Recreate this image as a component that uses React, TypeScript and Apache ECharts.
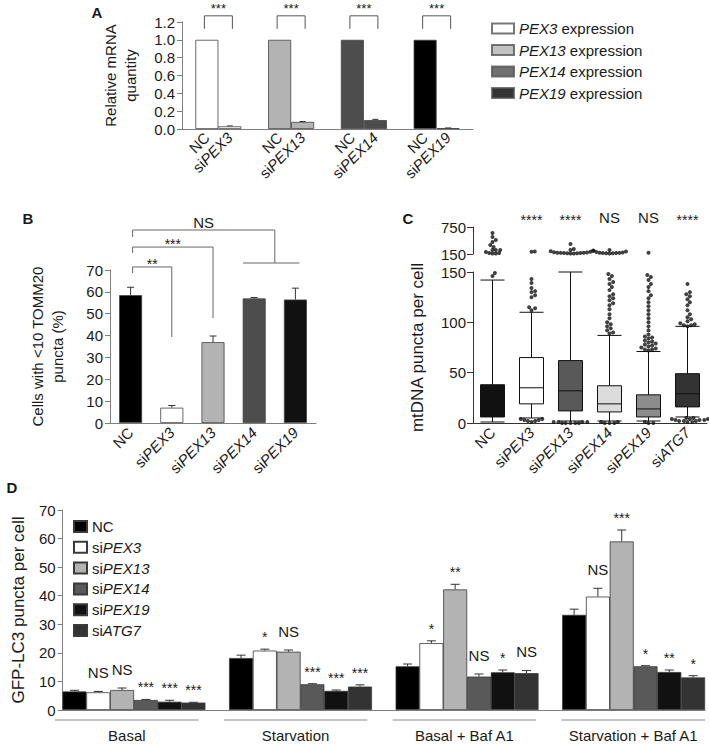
import React, { useEffect, useRef } from 'react';
import * as echarts from 'echarts';

// ---------------- Data ----------------
// Panel A
const aGenes = ['PEX3', 'PEX13', 'PEX14', 'PEX19'];
const aNC = [1.0, 1.0, 1.0, 1.0];
const aSi = [0.03, 0.08, 0.1, 0.01];
const aSiErr = [0.004, 0.004, 0.008, 0.002];
const aSig = ['***', '***', '***', '***'];

// Panel B
const bCats = ['NC', 'siPEX3', 'siPEX13', 'siPEX14', 'siPEX19'];
const bValues = [58.5, 7.0, 37.0, 57.0, 56.5];
const bErr = [3.6, 1.0, 2.8, 0.4, 5.2];
const bSigText = ['**', '***', 'NS'];

// Panel C  [min, Q1, median, Q3, max]
const cCats = ['NC', 'siPEX3', 'siPEX13', 'siPEX14', 'siPEX19', 'siATG7'];
const cBoxes = [
  [1, 6, 15, 38, 142],
  [5, 19, 35, 65, 110],
  [2, 12, 32, 62, 150],
  [2, 11, 19, 37, 87],
  [2, 6, 14, 28, 71],
  [6, 16, 29, 49, 96],
];
const cSig = ['', '****', '****', 'NS', 'NS', '****'];
const cLowerOutliers = [
  [149, 146],
  [143, 139, 134, 131, 130, 127, 125, 115, 114, 112, 4, 4, 3, 3, 2, 2, 1],
  [1, 1, 1, 0, 0, 0, 0, 0, 1],
  [148, 146, 143, 140, 138, 135, 132, 128, 126, 124, 122, 119, 117, 113, 108, 104, 100, 98, 96, 94, 92, 90, 89, 1, 1, 0, 0, 0],
  [147, 145, 142, 138, 135, 131, 127, 124, 120, 116, 112, 108, 104, 100, 96, 92, 88, 86, 85, 84, 82, 81, 80, 79, 78, 77, 76, 75, 74, 73, 73, 72, 1, 0, 0],
  [138, 130, 128, 126, 123, 120, 117, 112, 108, 105, 103, 101, 99, 98, 97, 97, 96, 5, 5, 4, 4, 4, 3, 3, 3, 2, 2, 2, 1, 1],
];
const cUpperOutliers = [
  [617, 528, 461, 417, 350, 306, 240, 240, 239, 194, 172, 172, 160, 160],
  [205, 200],
  [372, 260, 240, 225, 210, 200, 190, 185, 180, 178, 175, 172, 170, 168, 165, 162, 160],
  [240, 220, 205, 195, 185, 180, 175, 172, 170, 168, 165, 162],
  [180],
  [],
];
const cUpperTicks = [150, 750];

// Panel D
const dConditions = ['Basal', 'Starvation', 'Basal + Baf A1', 'Starvation + Baf A1'];
const dNames = ['NC', 'siPEX3', 'siPEX13', 'siPEX14', 'siPEX19', 'siATG7'];
const dNC = [6.5, 18.2, 15.3, 33.3];
const dNCErr = [0.4, 1.0, 0.8, 2.0];
const dNCSig = ['', '', '', ''];
const dPEX3 = [6.2, 20.8, 23.4, 39.7];
const dPEX3Err = [0.3, 0.5, 0.8, 2.9];
const dPEX3Sig = ['NS', '*', '*', 'NS'];
const dPEX13 = [7.0, 20.4, 42.2, 59.0];
const dPEX13Err = [0.7, 0.6, 1.8, 4.0];
const dPEX13Sig = ['NS', 'NS', '**', '***'];
const dPEX14 = [3.5, 9.0, 11.7, 15.3];
const dPEX14Err = [0.2, 0.2, 0.9, 0.2];
const dPEX14Sig = ['***', '***', 'NS', '*'];
const dPEX19 = [2.9, 6.7, 13.2, 13.3];
const dPEX19Err = [0.5, 0.3, 0.8, 0.7];
const dPEX19Sig = ['***', '***', '*', '**'];
const dATG7 = [2.6, 8.2, 12.9, 11.4];
const dATG7Err = [0.1, 0.6, 0.9, 0.6];
const dATG7Sig = ['***', '***', 'NS', '*'];

// ---------------- Styles / layout ----------------
const FONT = 'Liberation Sans, Arial, Helvetica, sans-serif';
const TXT = '#1a1a1a';
const AX = '#7f7f7f';
const aColors = ['#ffffff', '#b3b3b3', '#4d4d4d', '#000000'];
const bColors = ['#000000', '#ffffff', '#b3b3b3', '#4d4d4d', '#111111'];
const cColors = ['#111111', '#ffffff', '#595959', '#dcdcdc', '#8c8c8c', '#333333'];
const dColors = ['#000000', '#ffffff', '#b3b3b3', '#595959', '#111111', '#333333'];

const GA = { left: 182, top: 22, width: 291, height: 107 };
const GB = { left: 110, top: 270, width: 206, height: 153 };
const GCL = { left: 473, top: 272, width: 234, height: 151 };
const GCU = { left: 473, top: 227, width: 234, height: 27 };
const GD = { left: 54, top: 510, width: 651, height: 200 };
const D_SLOTS = 27;
const D_PER = 7;

// bracket geometry for panel B: [from, to, topVal, leftEndVal, rightEndVal]
const bBrackets = [
  [0, 1, 71.4, 68.6, 39.3],
  [0, 2, 80.5, 77.8, 48.0],
  [0, 3.5, 88.3, 85.1, 73.2],
];

const italicRich = { i: { fontStyle: 'italic', fontSize: 15, fontFamily: FONT, color: TXT } };
const geneFmt = (s: string) => (s.startsWith('si') ? `si{i|${s.slice(2)}}` : s);

const txtStyle = (text: string, size = 15, weight: any = 'normal') => ({
  text,
  fill: TXT,
  fontSize: size,
  fontFamily: FONT,
  fontWeight: weight,
  align: 'center',
  verticalAlign: 'middle',
  textAlign: 'center',
  textVerticalAlign: 'middle',
});

function swarm(values: number[], pxPerUnit: number, d: number, step: number): number[] {
  const order = values.map((_, i) => i).sort((a, b) => values[a] - values[b]);
  const placed: { x: number; y: number }[] = [];
  const out = new Array(values.length).fill(0);
  for (const i of order) {
    const y = values[i] * pxPerUnit;
    for (let k = 0; k < 200; k++) {
      const m = Math.ceil(k / 2);
      const cand = k === 0 ? 0 : k % 2 === 1 ? m * step : -m * step;
      if (placed.every((p) => (p.x - cand) ** 2 + (p.y - y) ** 2 >= d * d)) {
        out[i] = cand;
        placed.push({ x: cand, y });
        break;
      }
    }
  }
  return out;
}

function xAt(api: any, f: number): number {
  const a = Math.floor(f);
  const b = Math.ceil(f);
  const pa = api.coord([a, 0])[0];
  if (a === b) return pa;
  const pb = api.coord([b, 0])[0];
  return pa + (pb - pa) * (f - a);
}

function buildOption(): any {
  const axisLabelBase = { fontSize: 15, color: TXT, fontFamily: FONT };
  const yBase = (gridIndex: number, extra: any) => ({
    gridIndex,
    type: 'value',
    axisLine: { show: true, lineStyle: { color: AX, width: 1 } },
    axisTick: { show: true, length: 5, lineStyle: { color: AX } },
    splitLine: { show: false },
    axisLabel: { ...axisLabelBase, margin: 7 },
    nameLocation: 'middle',
    nameTextStyle: { fontSize: 15, lineHeight: 20, color: TXT, fontFamily: FONT },
    ...extra,
  });

  // D derived
  const dVals = [dNC, dPEX3, dPEX13, dPEX14, dPEX19, dATG7];
  const dErrs = [dNCErr, dPEX3Err, dPEX13Err, dPEX14Err, dPEX19Err, dATG7Err];
  const dSigs = [dNCSig, dPEX3Sig, dPEX13Sig, dPEX14Sig, dPEX19Sig, dATG7Sig];
  const dSlots = Array.from({ length: D_SLOTS }, (_, k) => String(k));
  const dErrItems: { slot: number; v: number; e: number; sig: string }[] = [];
  dVals.forEach((vals, s) =>
    vals.forEach((v, g) => dErrItems.push({ slot: g * D_PER + s, v, e: dErrs[s][g], sig: dSigs[s][g] }))
  );
  const dBarSeries = dNames.map((name, s) => ({
    name,
    type: 'bar',
    xAxisIndex: 4,
    yAxisIndex: 4,
    barWidth: 24,
    barGap: '-100%',
    itemStyle: { color: dColors[s], borderColor: '#3a3a3a', borderWidth: 0.8 },
    data: dSlots.map((_, k) => (k % D_PER === s ? dVals[s][Math.floor(k / D_PER)] : '-')),
  }));

  // C outliers with beeswarm offsets
  const lowerPx = GCL.height / 150;
  const upperPx = GCU.height / 600;
  const cLowerData: any[] = [];
  const cUpperData: any[] = [];
  cLowerOutliers.forEach((vals, i) => {
    const off = swarm(vals, lowerPx, 3.6, 1.2);
    vals.forEach((v, j) => cLowerData.push({ value: [i, v], symbolOffset: [off[j], 0] }));
  });
  cUpperOutliers.forEach((vals, i) => {
    const off = swarm(vals, upperPx, 3.2, 1.1);
    vals.forEach((v, j) => cUpperData.push({ value: [i, v], symbolOffset: [off[j], 0] }));
  });

  const sw = GD.width / D_SLOTS;
  const dGraphics: any[] = [];
  dConditions.forEach((c, g) => {
    const x0 = GD.left + g * D_PER * sw + 1;
    const x1 = GD.left + (g * D_PER + 6) * sw;
    dGraphics.push({ type: 'line', shape: { x1: x0, y1: 720, x2: x1, y2: 720 }, style: { stroke: '#8a8a8a', lineWidth: 1 } });
    dGraphics.push({ type: 'text', x: (x0 + x1) / 2, y: 735, style: txtStyle(c, 15) });
  });

  return {
    animation: false,
    backgroundColor: '#ffffff',
    textStyle: { fontFamily: FONT },
    grid: [
      { ...GA, containLabel: false },
      { ...GB, containLabel: false },
      { ...GCL, containLabel: false },
      { ...GCU, containLabel: false },
      { ...GD, containLabel: false },
    ],
    xAxis: [
      { gridIndex: 0, type: 'category', data: aGenes, axisLine: { lineStyle: { color: AX } }, axisTick: { show: false }, axisLabel: { show: false } },
      {
        gridIndex: 1, type: 'category', data: bCats,
        axisLine: { lineStyle: { color: AX } }, axisTick: { show: false },
        axisLabel: { ...axisLabelBase, rotate: 45, margin: 7, formatter: geneFmt, rich: italicRich },
      },
      {
        gridIndex: 2, type: 'category', data: cCats,
        axisLine: { lineStyle: { color: '#333' } }, axisTick: { show: false },
        axisLabel: { ...axisLabelBase, rotate: 45, margin: 7, formatter: geneFmt, rich: italicRich },
      },
      { gridIndex: 3, type: 'category', data: cCats, show: false },
      { gridIndex: 4, type: 'category', data: dSlots, axisLine: { lineStyle: { color: AX } }, axisTick: { show: false }, axisLabel: { show: false } },
    ],
    yAxis: [
      yBase(0, {
        min: 0, max: 1.2, interval: 0.2,
        axisLabel: { ...axisLabelBase, margin: 7, formatter: (v: number) => v.toFixed(1) },
        name: 'Relative mRNA\nquantity', nameGap: 42,
      }),
      yBase(1, { min: 0, max: 70, interval: 10, name: 'Cells with <10 TOMM20\npuncta (%)', nameGap: 43 }),
      yBase(2, {
        min: 0, max: 150, interval: 50, name: 'mtDNA puncta per cell', nameGap: 46,
        nameTextStyle: { fontSize: 17, lineHeight: 20, color: TXT, fontFamily: FONT },
        axisLine: { show: true, lineStyle: { color: '#333' } }, axisTick: { show: true, length: 6, lineStyle: { color: '#333' } },
      }),
      yBase(3, {
        min: 150, max: 750,
        axisLine: { show: true, lineStyle: { color: '#333' } },
        axisTick: { show: true, length: 6, lineStyle: { color: '#333' }, customValues: cUpperTicks },
        axisLabel: { ...axisLabelBase, margin: 7, customValues: cUpperTicks },
      }),
      yBase(4, {
        min: 0, max: 70, interval: 10, name: 'GFP-LC3 puncta per cell', nameGap: 30,
        nameTextStyle: { fontSize: 17, lineHeight: 20, color: TXT, fontFamily: FONT },
      }),
    ],
    legend: [
      {
        data: aGenes, orient: 'vertical', left: 486, top: 16, itemWidth: 22, itemHeight: 10, itemGap: 6.5,
        icon: 'rect', selectedMode: false,
        formatter: (n: string) => `{i|${n}} expression`,
        textStyle: { fontSize: 15, color: TXT, fontFamily: FONT, rich: italicRich },
      },
      {
        data: dNames, orient: 'vertical', left: 68, top: 514, itemWidth: 13, itemHeight: 11, itemGap: 5.8,
        icon: 'rect', selectedMode: false,
        formatter: geneFmt,
        textStyle: { fontSize: 15, color: TXT, fontFamily: FONT, rich: italicRich },
      },
    ],
    graphic: [
      { type: 'text', x: 97, y: 12, style: txtStyle('A', 15, 'bold') },
      { type: 'text', x: 28, y: 218, style: txtStyle('B', 15, 'bold') },
      { type: 'text', x: 408, y: 218, style: txtStyle('C', 15, 'bold') },
      { type: 'text', x: 12, y: 487, style: txtStyle('D', 15, 'bold') },
      ...dGraphics,
    ],
    series: [
      // ---- Panel A ----
      {
        name: 'A-NC', type: 'bar', xAxisIndex: 0, yAxisIndex: 0, barWidth: 23, barGap: '0%',
        itemStyle: { borderColor: '#444', borderWidth: 0.8 },
        data: aNC.map((v, i) => ({ value: v, itemStyle: { color: aColors[i] } })),
        label: {
          show: true, position: 'bottom', distance: 6, rotate: 45, align: 'right', verticalAlign: 'middle',
          formatter: () => 'NC', ...axisLabelBase,
        },
      },
      {
        name: 'A-si', type: 'bar', xAxisIndex: 0, yAxisIndex: 0, barWidth: 23, barGap: '0%',
        itemStyle: { borderColor: '#444', borderWidth: 0.8 },
        data: aSi.map((v, i) => ({ value: v, itemStyle: { color: aColors[i] } })),
        label: {
          show: true, position: 'bottom', distance: 6, rotate: 45, align: 'right', verticalAlign: 'middle',
          formatter: (p: any) => `si{i|${aGenes[p.dataIndex]}}`, ...axisLabelBase, rich: italicRich,
        },
      },
      {
        name: 'A-err', type: 'custom', xAxisIndex: 0, yAxisIndex: 0,
        data: aSi.map((v, i) => [i, v, aSiErr[i]]),
        renderItem: (params: any, api: any) => {
          const i = api.value(0), v = api.value(1), e = api.value(2);
          const p0 = api.coord([i, v]);
          const p1 = api.coord([i, v + e]);
          const x = p0[0] + 11.5;
          return {
            type: 'group', children: [
              { type: 'line', shape: { x1: x, y1: p0[1], x2: x, y2: p1[1] }, style: { stroke: '#333', lineWidth: 1 } },
              { type: 'line', shape: { x1: x - 3, y1: p1[1], x2: x + 3, y2: p1[1] }, style: { stroke: '#333', lineWidth: 1 } },
            ],
          };
        },
      },
      {
        name: 'A-sig', type: 'custom', xAxisIndex: 0, yAxisIndex: 0,
        data: aNC.map((v, i) => [i, v]),
        renderItem: (params: any, api: any) => {
          const i = api.value(0);
          const c = api.coord([i, api.value(1)]);
          const xL = c[0] - 14, xR = c[0] + 14;
          const yTop = c[1] - 24, yLeg = c[1] - 11;
          return {
            type: 'group', children: [
              { type: 'polyline', shape: { points: [[xL, yLeg], [xL, yTop], [xR, yTop], [xR, yLeg]] }, style: { stroke: '#555', fill: 'none', lineWidth: 1 } },
              { type: 'text', x: (xL + xR) / 2, y: yTop - 7, style: txtStyle(aSig[i], 13) },
            ],
          };
        },
      },
      ...aGenes.map((g, i) => ({
        name: g, type: 'scatter', xAxisIndex: 0, yAxisIndex: 0, data: [], symbol: 'rect',
        itemStyle: { color: aColors[i], borderColor: '#555', borderWidth: 1 },
      })),
      // ---- Panel B ----
      {
        name: 'B-bars', type: 'bar', xAxisIndex: 1, yAxisIndex: 1, barWidth: 23,
        itemStyle: { borderColor: '#444', borderWidth: 0.8 },
        data: bValues.map((v, i) => ({ value: v, itemStyle: { color: bColors[i] } })),
      },
      {
        name: 'B-err', type: 'custom', xAxisIndex: 1, yAxisIndex: 1,
        data: bValues.map((v, i) => [i, v, bErr[i]]),
        renderItem: (params: any, api: any) => {
          const i = api.value(0), v = api.value(1), e = api.value(2);
          const p0 = api.coord([i, v]);
          const p1 = api.coord([i, v + e]);
          return {
            type: 'group', children: [
              { type: 'line', shape: { x1: p0[0], y1: p0[1], x2: p0[0], y2: p1[1] }, style: { stroke: '#333', lineWidth: 1 } },
              { type: 'line', shape: { x1: p0[0] - 3.5, y1: p1[1], x2: p0[0] + 3.5, y2: p1[1] }, style: { stroke: '#333', lineWidth: 1 } },
            ],
          };
        },
      },
      {
        name: 'B-brackets', type: 'custom', xAxisIndex: 1, yAxisIndex: 1,
        data: bBrackets.map((b) => [b[0], b[2]]),
        renderItem: (params: any, api: any) => {
          const [from, to, top, lEnd, rEnd] = bBrackets[params.dataIndex];
          const xL = xAt(api, from) + 2;
          const xR = xAt(api, to);
          const yT = api.coord([0, top])[1];
          const yL = api.coord([0, lEnd])[1];
          const yR = api.coord([0, rEnd])[1];
          const st = { stroke: '#666', fill: 'none', lineWidth: 1 };
          const text = bSigText[params.dataIndex];
          const children: any[] = [
            { type: 'polyline', shape: { points: [[xL, yL], [xL, yT], [xR, yT], [xR, yR]] }, style: st },
            { type: 'text', x: (xL + xR) / 2, y: text === 'NS' ? yT - 8 : yT - 3, style: txtStyle(text, text === 'NS' ? 15 : 14) },
          ];
          if (to % 1 !== 0) {
            const c0 = xAt(api, Math.floor(to) - 0.27);
            const c1 = xAt(api, Math.ceil(to) + 0.1);
            children.push({ type: 'line', shape: { x1: c0, y1: yR, x2: c1, y2: yR }, style: st });
          }
          return { type: 'group', children };
        },
      },
      // ---- Panel C ----
      {
        name: 'C-box', type: 'boxplot', xAxisIndex: 2, yAxisIndex: 2, boxWidth: [24, 24],
        itemStyle: { borderColor: '#111', borderWidth: 1 },
        data: cBoxes.map((b, i) => ({ value: b, itemStyle: { color: cColors[i], borderColor: '#111' } })),
      },
      {
        name: 'C-out-low', type: 'scatter', xAxisIndex: 2, yAxisIndex: 2, symbolSize: 4,
        itemStyle: { color: '#111' }, data: cLowerData,
      },
      {
        name: 'C-out-up', type: 'scatter', xAxisIndex: 3, yAxisIndex: 3, symbolSize: 4,
        itemStyle: { color: '#111' }, data: cUpperData,
      },
      {
        name: 'C-sig', type: 'custom', xAxisIndex: 3, yAxisIndex: 3,
        data: cSig.map((_, i) => [i, 750]),
        renderItem: (params: any, api: any) => {
          const t = cSig[params.dataIndex];
          if (!t) return null;
          const p = api.coord([api.value(0), api.value(1)]);
          return { type: 'text', x: p[0], y: t === 'NS' ? p[1] - 10 : p[1] - 7, style: txtStyle(t, t === 'NS' ? 15 : 14) };
        },
      },
      // ---- Panel D ----
      ...dBarSeries,
      {
        name: 'D-err', type: 'custom', xAxisIndex: 4, yAxisIndex: 4,
        data: dErrItems.map((d) => [d.slot, d.v, d.e]),
        renderItem: (params: any, api: any) => {
          const it = dErrItems[params.dataIndex];
          const p0 = api.coord([it.slot, it.v]);
          const p1 = api.coord([it.slot, it.v + it.e]);
          const children: any[] = [
            { type: 'line', shape: { x1: p0[0], y1: p0[1], x2: p0[0], y2: p1[1] }, style: { stroke: '#333', lineWidth: 1 } },
            { type: 'line', shape: { x1: p0[0] - 4.5, y1: p1[1], x2: p0[0] + 4.5, y2: p1[1] }, style: { stroke: '#333', lineWidth: 1 } },
          ];
          if (it.sig) {
            const ns = it.sig === 'NS';
            children.push({ type: 'text', x: p0[0], y: p1[1] - (ns ? 19 : 12), style: txtStyle(it.sig, ns ? 15 : 14) });
          }
          return { type: 'group', children };
        },
      },
    ],
  };
}

export default function App() {
  const ref = useRef<HTMLDivElement>(null);
  useEffect(() => {
    if (!ref.current) return;
    const chart = echarts.init(ref.current, null, { renderer: 'svg', width: 709, height: 744 });
    chart.setOption(buildOption());
    return () => chart.dispose();
  }, []);
  return (
    <div
      ref={ref}
      style={{ position: 'fixed', left: 0, top: 0, width: 709, height: 744, background: '#fff' }}
    />
  );
}
